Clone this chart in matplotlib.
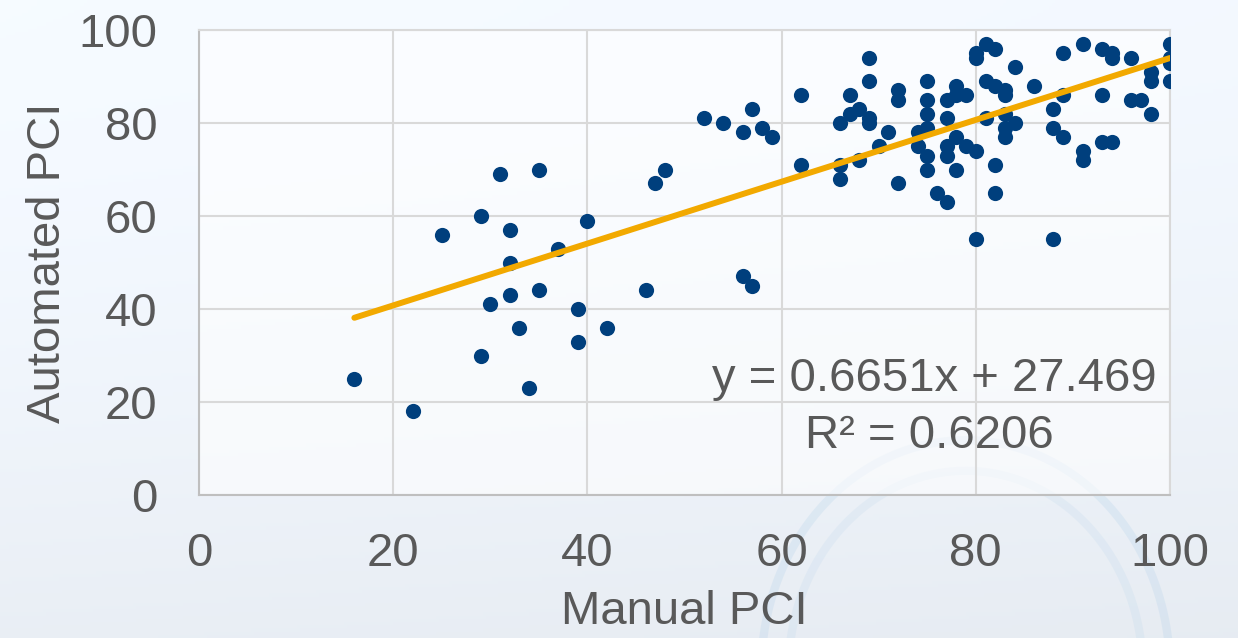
import numpy as np
import matplotlib
matplotlib.use("Agg")
import matplotlib.pyplot as plt

plt.rcParams['font.family'] = ['Liberation Sans', 'DejaVu Sans']

# Paired PCI ratings: manual survey vs automated detection
manual_pci = [16, 22, 25, 29, 29, 30, 31, 32, 32, 32, 33, 34, 35, 35, 37, 39, 39, 40, 42, 46,
              47, 48, 52, 54, 56, 57, 58, 59, 56, 57,
              62, 62, 66, 66, 66, 67, 67, 68, 68, 69, 69, 69, 69, 70, 71, 72, 72, 72,
              74, 74, 75, 75, 75, 75, 75, 75, 76, 77, 77, 77, 77, 77, 78, 78, 78, 78, 79, 79,
              80, 80, 80, 80, 81, 82, 81, 82, 83, 83, 81, 83, 83, 83, 84, 82, 82, 84, 86,
              88, 88, 89, 88, 89, 89, 91, 91, 91, 93, 94, 94, 93, 93, 94, 96, 96, 97,
              98, 98, 98, 100, 100, 100, 100]
automated_pci = [25, 18, 56, 60, 30, 41, 69, 57, 50, 43, 36, 23, 70, 44, 53, 40, 33, 59, 36, 44,
                 67, 70, 81, 80, 78, 83, 79, 77, 47, 45,
                 86, 71, 80, 71, 68, 86, 82, 83, 72, 94, 89, 81, 80, 75, 78, 87, 85, 67,
                 78, 75, 89, 85, 82, 79, 73, 70, 65, 63, 85, 81, 75, 73, 88, 86, 77, 70, 86, 75,
                 74, 55, 95, 94, 97, 96, 89, 88, 87, 86, 81, 82, 79, 77, 80, 71, 65, 92, 88,
                 83, 79, 77, 55, 95, 86, 97, 74, 72, 96, 95, 94, 86, 76, 76, 94, 85, 85,
                 91, 89, 82, 97, 94, 93, 89]

slope, intercept = 0.6651, 27.469
r_squared = 0.6206
fit_x = [16, 100]

x_ticks = [0, 20, 40, 60, 80, 100]
y_ticks = [0, 20, 40, 60, 80, 100]

W, H = 1238, 638
fig = plt.figure(figsize=(W / 100, H / 100), dpi=100)

# soft slide-style backdrop
bg = fig.add_axes([0, 0, 1, 1], zorder=-10)
yy, xx = np.mgrid[0:1:200j, 0:1:400j]
shade = 0.995 - 0.05 * yy ** 1.5 - 0.01 * xx
rgb = np.dstack([shade - 0.03, shade - 0.01, np.clip(shade + 0.015, 0, 1)])
bg.imshow(np.clip(rgb, 0, 1), extent=[0, 1, 0, 1], aspect='auto', origin='upper')
theta = np.linspace(0, np.pi, 200)
for r, a in [(0.30, 0.22), (0.26, 0.15)]:
    bg.plot(0.78 + r * 0.55 * np.cos(theta), -0.05 + r * 1.2 * np.sin(theta),
            color='#A9CCE8', lw=6, alpha=a)
bg.set_xlim(0, 1)
bg.set_ylim(0, 1)
bg.axis('off')

ax = fig.add_axes([199 / W, (H - 495) / H, (1170 - 199) / W, (495 - 30) / H])
ax.set_facecolor((1, 1, 1, 0.6))

ax.scatter(manual_pci, automated_pci, s=120, color='#003F7D', zorder=3, linewidths=0)
fit_y = [slope * v + intercept for v in fit_x]
ax.plot(fit_x, fit_y, color='#F2A900', lw=4.3, solid_capstyle='round', zorder=4)

ax.set_xlim(0, 100)
ax.set_ylim(0, 100)
ax.set_xticks(x_ticks)
ax.set_yticks(y_ticks)
ax.grid(True, color='#D9D9D9', lw=1.5, zorder=0)
ax.set_axisbelow(True)
for sp in ax.spines.values():
    sp.set_color('#D9D9D9')
    sp.set_linewidth(1.5)
ax.spines['bottom'].set_color('#BFBFBF')
ax.spines['left'].set_color('#BFBFBF')
ax.tick_params(length=0, labelsize=34, colors='#595959')
ax.tick_params(axis='y', pad=30)
ax.tick_params(axis='x', pad=27)

ax.set_xlabel('Manual PCI', fontsize=34, color='#595959', labelpad=10)
ax.set_ylabel('Automated PCI', fontsize=34, color='#595959', labelpad=6)

ax.text(98.6, 25.0, f'y = {slope}x + {intercept}', fontsize=34, color='#595959',
        ha='right', va='center')
ax.text(75.2, 12.7, f'R² = {r_squared}', fontsize=34, color='#595959',
        ha='center', va='center')

fig.savefig('out.png', dpi=100)
